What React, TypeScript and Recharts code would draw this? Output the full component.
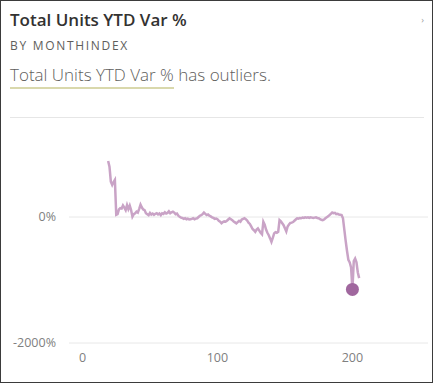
import { LineChart, Line, XAxis, YAxis, ReferenceLine, ReferenceDot } from "recharts";

// month index and YTD variance (%)
const monthIndex = [
  19, 20, 21, 22, 23, 24, 25, 26, 27, 28, 29, 30, 31, 32, 33, 34, 35, 36, 37, 38,
  39, 40, 41, 42, 43, 44, 45, 46, 47, 48, 49, 50, 51, 52, 53, 54, 55, 56, 57, 58,
  59, 60, 61, 62, 63, 64, 65, 66, 67, 68, 69, 70, 71, 72, 73, 74, 75, 76, 77, 78,
  79, 80, 81, 82, 83, 84, 85, 86, 87, 88, 89, 90, 91, 92, 93, 94, 95, 96, 97, 98,
  99, 100, 101, 102, 103, 104, 105, 106, 107, 108, 109, 110, 111, 112, 113, 114, 115, 116, 117, 118,
  119, 120, 121, 122, 123, 124, 125, 126, 127, 128, 129, 130, 131, 132, 133, 134, 135, 136, 137, 138,
  139, 140, 141, 142, 143, 144, 145, 146, 147, 148, 149, 150, 151, 152, 153, 154, 155, 156, 157, 158,
  159, 160, 161, 162, 163, 164, 165, 166, 167, 168, 169, 170, 171, 172, 173, 174, 175, 176, 177, 178,
  179, 180, 181, 182, 183, 184, 185, 186, 187, 188, 189, 190, 191, 192, 193, 194, 195, 196, 197, 198,
  199, 200, 201, 202, 203, 204, 205,
];
const unitsVar = [
  890, 800, 560, 510, 555, 590, 35, 45, 120, 140, 135, 185, 150, 110, 190, 125, 180, 110, 5, 45,
  60, 85, 70, 130, 195, 150, 120, 110, 60, 45, 30, 65, 40, 55, 35, 50, 60, 40, 55, 30,
  60, 50, 75, 55, 65, 90, 60, 75, 85, 70, 45, 55, 20, 5, -10, -15, -30, -20, -35, -25,
  -40, -35, -30, -20, -35, -25, -20, 0, 20, 30, 45, 70, 50, 30, 40, 20, 10, -5, -15, -30,
  -25, -35, -60, -75, -100, -80, -70, -75, -60, -40, -20, -35, -50, -70, -85, -100, -80, -60, -75, -40,
  -30, -20, -35, -55, -90, -110, -150, -190, -210, -235, -200, -180, -215, -250, -275, -75, -120, -200, -250, -290,
  -340, -395, -330, -260, -240, -250, -235, -50, -70, -100, -130, -180, -230, -150, -120, -95, -90, -80, -60, -40,
  -20, -25, -15, -20, -10, -15, -5, -10, -5, -15, -5, -10, -15, -10, -5, -15, -20, -35, -45, -50,
  -40, -20, -5, 10, 30, 50, 70, 60, 65, 45, 50, 40, 35, 30, -20, -200, -380, -540, -680, -720,
  -800, -1150, -700, -660, -720, -880, -970,
];
const xTicks = [0, 100, 200];
const yTicks = [-2000, 0];

const data = monthIndex.map((m, i) => ({ month: m, value: unitsVar[i] }));
const outlier = data.reduce((a, b) => (b.value < a.value ? b : a));

const font = "'Open Sans', 'Noto Sans', sans-serif";

export default function App() {
  return (
    <div
      style={{
        position: "relative",
        width: 433,
        height: 383,
        boxSizing: "border-box",
        border: "1px solid #3b3b3b",
        background: "#fff",
        fontFamily: font,
        overflow: "hidden",
      }}
    >
      <style>{`body{margin:0}`}</style>
      <div style={{ position: "absolute", left: 9, top: 7, fontSize: 17, fontWeight: 600, color: "#333231" }}>
        Total Units YTD Var %
      </div>
      <div style={{ position: "absolute", right: 8, top: 12, fontSize: 9, color: "#a0a0a0" }}>›</div>
      <div
        style={{
          position: "absolute",
          left: 9,
          top: 36,
          fontSize: 12,
          fontWeight: 400,
          letterSpacing: 1.7,
          color: "#605e5c",
        }}
      >
        BY MONTHINDEX
      </div>
      <div style={{ position: "absolute", left: 9, top: 62, fontSize: 17, fontWeight: 300, color: "#605e5c" }}>
        <span style={{ borderBottom: "2px solid #d9d8ac", paddingBottom: 1 }}>Total Units YTD Var %</span> has
        outliers.
      </div>
      <div style={{ position: "absolute", left: 9, right: 8, top: 116, height: 1, background: "#e6e6e6" }} />
      <div style={{ position: "absolute", left: -1, top: 99 }}>
        <LineChart width={433} height={283} data={data} margin={{ top: 22.5, right: 5, left: 0, bottom: 0 }}>
          <XAxis
            dataKey="month"
            type="number"
            domain={[-10, 256]}
            ticks={xTicks}
            axisLine={false}
            tickLine={false}
            tickSize={0}
            tickMargin={10}
            height={40}
            tick={{ fontSize: 12.5, fill: "#808080", fontFamily: font }}
          />
          <YAxis
            type="number"
            domain={[-2000, 1500]}
            ticks={yTicks}
            tickFormatter={(v) => `${v}%`}
            axisLine={false}
            tickLine={false}
            tickSize={0}
            tickMargin={13}
            width={69}
            tick={{ fontSize: 12.5, fill: "#808080", fontFamily: font }}
          />
          {yTicks.map((t) => (
            <ReferenceLine key={t} y={t} stroke="#e8e8e8" strokeWidth={1} />
          ))}
          <Line
            type="linear"
            dataKey="value"
            stroke="#c9a3c6"
            strokeWidth={2.5}
            dot={false}
            isAnimationActive={false}
          />
          <ReferenceDot x={outlier.month} y={outlier.value} r={6.5} fill="#a0679e" stroke="none" />
        </LineChart>
      </div>
    </div>
  );
}
